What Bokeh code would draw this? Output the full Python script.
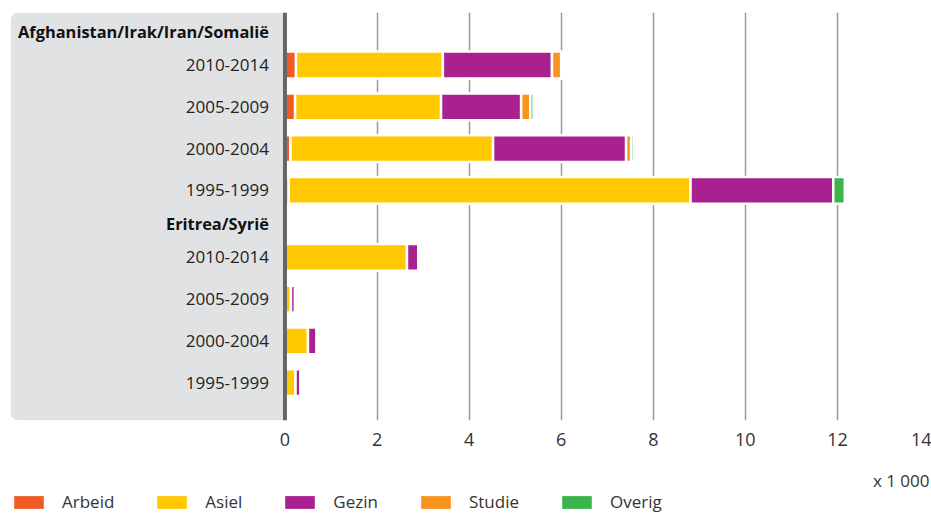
from bokeh.plotting import figure
from bokeh.layouts import column
from bokeh.models import (ColumnDataSource, Range1d, FixedTicker, Span,
                          BoxAnnotation, Legend, LegendItem, Label)
from bokeh.core.properties import value
from bokeh.embed import file_html
from bokeh.resources import INLINE

# ---------------- data (x 1 000) ----------------
groups = ["Afghanistan/Irak/Iran/Somalië", "Eritrea/Syrië"]
periods = ["2010-2014", "2005-2009", "2000-2004", "1995-1999"]
series = ["Arbeid", "Asiel", "Gezin", "Studie", "Overig"]

# order: group 1 periods, then group 2 periods
arbeid = [0.24, 0.22, 0.12, 0.08, 0.00, 0.00, 0.00, 0.00]
asiel  = [3.19, 3.17, 4.40, 8.73, 2.65, 0.13, 0.50, 0.23]
gezin  = [2.37, 1.74, 2.89, 3.10, 0.25, 0.09, 0.19, 0.11]
studie = [0.20, 0.20, 0.11, 0.00, 0.00, 0.00, 0.00, 0.00]
overig = [0.03, 0.07, 0.06, 0.25, 0.00, 0.00, 0.00, 0.00]

x_ticks = [0, 2, 4, 6, 8, 10, 12, 14]
unit_label = "x 1 000"

colors = ["#f15a24", "#ffc800", "#a8218e", "#f7941d", "#39b54a"]

# ---------------- layout of rows ----------------
GROUP_GAP = 0.6
HEADER_OFFSET = 0.8

ys, row_labels, header_y = [], [], []
for gi, g in enumerate(groups):
    base = gi * (len(periods) + GROUP_GAP)
    header_y.append(base - HEADER_OFFSET)
    for pi, per in enumerate(periods):
        ys.append(base + pi)
        row_labels.append(per)

source = ColumnDataSource(data=dict(
    y=ys, label=row_labels,
    Arbeid=arbeid, Asiel=asiel, Gezin=gezin, Studie=studie, Overig=overig,
))
header_source = ColumnDataSource(data=dict(y=header_y, label=groups))

FONT = "Open Sans"
X_START, X_END = -5.962, 14

# ---------------- main chart ----------------
p = figure(width=931, height=462, output_backend="svg", toolbar_location=None,
           tools="", x_range=Range1d(X_START, X_END),
           y_range=Range1d(8.505, -1.256),
           y_axis_location=None, min_border_left=10, min_border_right=2,
           min_border_top=12, min_border_bottom=42, outline_line_color=None,
           background_fill_color="white", border_fill_color="white")
p.title.visible = False

panel = BoxAnnotation(right=0, fill_color="#e1e2e4", fill_alpha=1.0,
                      line_color=None, level="underlay",
                      border_radius=(8, 0, 0, 8))
p.add_layout(panel)

p.ygrid.visible = False
p.xgrid.ticker = FixedTicker(ticks=[t for t in x_ticks if 0 < t < 14])
p.xgrid.grid_line_color = "#999999"
p.xgrid.grid_line_width = 1.5

ax = p.xaxis[0]
ax.ticker = FixedTicker(ticks=x_ticks)
ax.axis_line_color = None
ax.major_tick_line_color = None
ax.minor_tick_line_color = None
ax.major_tick_out = 0
ax.major_tick_in = 0
ax.major_label_standoff = 12
ax.major_label_text_font = FONT
ax.major_label_text_font_size = "18px"
ax.major_label_text_color = "#333333"

p.hbar_stack(series, y="y", height=0.64, color=colors,
             line_color="white", line_width=2.5, source=source)

p.text(x=0, y="y", text="label", source=source, x_offset=-16,
       text_align="right", text_baseline="middle",
       text_font=value(FONT), text_font_size="17px", text_color="#222222")
p.text(x=0, y="y", text="label", source=header_source, x_offset=-16,
       text_align="right", text_baseline="middle",
       text_font=value(FONT), text_font_size="16.4px", text_font_style="bold",
       text_color="#111111")

p.add_layout(Span(location=0, dimension="height", line_color="#666666",
                  line_width=4))

# ---------------- footer: unit label + legend ----------------
f = figure(width=931, height=51, output_backend="svg", toolbar_location=None,
           tools="", x_range=Range1d(X_START, X_END), y_range=Range1d(0, 51),
           x_axis_location=None, y_axis_location=None,
           min_border_left=10, min_border_right=2, min_border_top=0,
           min_border_bottom=0, outline_line_color=None,
           background_fill_color="white", border_fill_color="white")
f.title.visible = False
f.xgrid.visible = False
f.ygrid.visible = False

f.add_layout(Label(x=X_END, x_units="data", y=33, y_units="screen",
                   text=unit_label, text_align="right", text_baseline="middle",
                   text_font=FONT, text_font_size="17px",
                   text_color="#333333"))

# legend swatches: same series, hidden in the footer (legend only)
swatches = f.hbar_stack(series, y="y", height=0.64, color=colors,
                        line_color=None, source=source, visible=False)
legend = Legend(items=[LegendItem(label=s, renderers=[r])
                       for s, r in zip(series, swatches)],
                location=(0, 0), orientation="horizontal",
                glyph_width=37, glyph_height=16, label_standoff=15,
                spacing=39, padding=0, margin=0, label_height=20,
                border_line_color=None, background_fill_alpha=0,
                inactive_fill_alpha=0,
                label_text_font=FONT, label_text_font_size="17px",
                label_text_color="#333333")
f.add_layout(legend)

layout = column(p, f, spacing=0)
open("out.html", "w").write(file_html(layout, INLINE))
